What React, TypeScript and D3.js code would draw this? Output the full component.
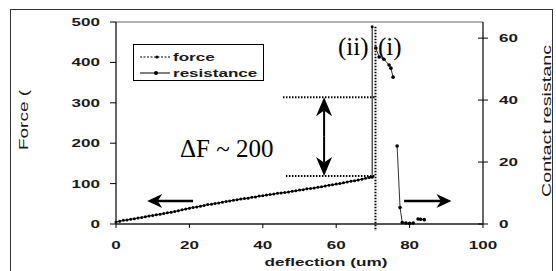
import React from 'react';
import * as d3 from 'd3';

// force curve (deflection um, force)
const forceX = [0, 1, 2, 3, 4, 5, 6, 7, 8, 9, 10, 11, 12, 13, 14, 15, 16, 17, 18, 19, 20, 21, 22, 23, 24, 25, 26, 27, 28, 29, 30, 31, 32, 33, 34, 35, 36, 37, 38, 39, 40, 41, 42, 43, 44, 45, 46, 47, 48, 49, 50, 51, 52, 53, 54, 55, 56, 57, 58, 59, 60, 61, 62, 63, 64, 65, 66, 67, 68, 69, 69.8, 69.8];
const forceY = [5, 7, 9, 10, 12, 13, 15, 16, 18, 20, 21, 23, 24, 26, 28, 29, 31, 33, 35, 37, 39, 41, 42, 44, 46, 48, 49, 51, 52, 54, 56, 57, 59, 60, 62, 63, 64, 66, 67, 69, 70, 72, 73, 74, 76, 77, 78, 79, 81, 82, 84, 85, 87, 88, 89, 91, 92, 94, 96, 97, 99, 100, 102, 104, 106, 107, 109, 111, 113, 115, 116, 488];

// contact resistance, null = gap in the trace
const resX = [70.8, 71.7, 73.0, 74.4, 74.9, 75.5, 76, 76.6, 77.4, 78, 79, 80, 81, 81.6, 82.3, 83, 84];
const resY = [56.8, 53.9, 53.2, 51.3, 50.3, 47.4, null, 25.2, 5.3, 0.5, 0.3, 0.2, 0.3, null, 1.6, 1.5, 1.4];

const xTicks = [0, 20, 40, 60, 80, 100];
const forceTicks = [0, 100, 200, 300, 400, 500];
const resTicks = [0, 20, 40, 60];

const W = 556;
const H = 271;
const left = 116;
const right = 483;
const top = 22;
const bottom = 224;

const font = "'Liberation Sans', Arial, sans-serif";
const serif = "'Liberation Serif', 'Times New Roman', serif";

const Txt = ({ x, y, anchor = 'start', size = 11, sx = 1.55, children }: any) => (
  <text
    transform={`translate(${x},${y}) scale(${sx},1)`}
    textAnchor={anchor}
    fontFamily={font}
    fontWeight="bold"
    fontSize={size}
    fill="#1a1a1a"
  >
    {children}
  </text>
);

const Arrow = ({ x1, y1, x2, y2, L = 15, Wd = 7, sw = 2.5 }: any) => {
  // shaft + filled head pointing at (x2,y2)
  const ang = Math.atan2(y2 - y1, x2 - x1);
  const bx = x2 - L * Math.cos(ang);
  const by = y2 - L * Math.sin(ang);
  const nx = -Math.sin(ang);
  const ny = Math.cos(ang);
  const mx = x2 - L * 0.7 * Math.cos(ang);
  const my = y2 - L * 0.7 * Math.sin(ang);
  return (
    <g>
      <line x1={x1} y1={y1} x2={mx} y2={my} stroke="#000" strokeWidth={sw} />
      <path
        d={`M${x2},${y2} L${bx + nx * Wd},${by + ny * Wd} L${mx},${my} L${bx - nx * Wd},${by - ny * Wd} Z`}
        fill="#000"
      />
    </g>
  );
};

export default function App() {
  const x = d3.scaleLinear().domain([0, 100]).range([left, right]);
  const yF = d3.scaleLinear().domain([0, 500]).range([bottom, top]);
  const yR = d3.scaleLinear().domain([0, 65.2]).range([bottom, top]);

  const forcePts = forceX.map((d, i) => [d, forceY[i]] as [number, number]);
  const resPts = resX.map((d, i) => [d, resY[i]] as [number, number | null]);

  const forceLine = d3
    .line<[number, number]>()
    .x((d) => x(d[0]))
    .y((d) => yF(d[1]));
  const resLine = d3
    .line<[number, number | null]>()
    .defined((d) => d[1] != null)
    .x((d) => x(d[0]))
    .y((d) => yR(d[1] as number));

  return (
    <svg width={W} height={H} style={{ position: 'absolute', left: 0, top: 0, background: '#fff' }}>
      {/* outer figure frame */}
      <rect x={10.5} y={9.5} width={542} height={270} fill="none" stroke="#333" strokeWidth={1} />

      {/* plot frame */}
      <line x1={left} y1={top} x2={right} y2={top} stroke="#666" strokeWidth={1} />
      <line x1={left} y1={top} x2={left} y2={bottom} stroke="#000" strokeWidth={1.2} />
      <line x1={right} y1={top} x2={right} y2={bottom} stroke="#000" strokeWidth={1.2} />
      <line x1={left} y1={bottom} x2={right} y2={bottom} stroke="#555" strokeWidth={2} />

      {/* left axis */}
      {forceTicks.map((t) => (
        <g key={'f' + t}>
          <line x1={left - 6} x2={left} y1={yF(t)} y2={yF(t)} stroke="#000" />
          <Txt x={left - 16} y={yF(t) + 4} anchor="end">{t}</Txt>
        </g>
      ))}
      {/* right axis */}
      {resTicks.map((t) => (
        <g key={'r' + t}>
          <line x1={right - 5} x2={right + 5} y1={yR(t)} y2={yR(t)} stroke="#000" />
          <Txt x={right + 16} y={yR(t) + 4}>{t}</Txt>
        </g>
      ))}
      {/* bottom axis */}
      {xTicks.map((t) => (
        <g key={'x' + t}>
          <line x1={x(t)} x2={x(t)} y1={bottom} y2={bottom + 4} stroke="#000" />
          <Txt x={x(t)} y={bottom + 25} anchor="middle">{t}</Txt>
        </g>
      ))}

      {/* axis titles */}
      <text
        x={326}
        y={266}
        textAnchor="middle"
        fontFamily={font}
        fontWeight="bold"
        fontSize={11}
        textLength={123}
        lengthAdjust="spacingAndGlyphs"
        fill="#1a1a1a"
      >
        deflection (um)
      </text>
      <text
        transform="translate(28,120) rotate(-90)"
        textAnchor="middle"
        fontFamily={font}
        fontSize={12}
        textLength={60}
        lengthAdjust="spacingAndGlyphs"
        fill="#1a1a1a"
      >
        Force (
      </text>
      <text
        transform="translate(551,121) rotate(-90)"
        textAnchor="middle"
        fontFamily={font}
        fontSize={13}
        textLength={152}
        lengthAdjust="spacingAndGlyphs"
        fill="#1a1a1a"
      >
        Contact resistanc
      </text>

      {/* annotation dotted lines */}
      <line x1={x(70.7)} x2={x(70.7)} y1={yF(488)} y2={bottom + 7} stroke="#000" strokeWidth={2} strokeDasharray="1.5,1.5" />
      <line x1={x(45.5)} x2={x(70.7)} y1={yF(314)} y2={yF(314)} stroke="#000" strokeWidth={2} strokeDasharray="1.5,1.5" />
      <line x1={x(46.3)} x2={x(70.7)} y1={yF(119)} y2={yF(119)} stroke="#000" strokeWidth={2} strokeDasharray="1.5,1.5" />

      {/* force */}
      <path d={forceLine(forcePts) || ''} fill="none" stroke="#000" strokeWidth={1} />
      {forcePts.map((d, i) => (
        <circle key={'fp' + i} cx={x(d[0])} cy={yF(d[1])} r={1.5} fill="#000" />
      ))}

      {/* resistance */}
      <path d={resLine(resPts) || ''} fill="none" stroke="#333" strokeWidth={1} />
      {resPts
        .filter((d) => d[1] != null)
        .map((d, i) => (
          <circle key={'rp' + i} cx={x(d[0])} cy={yR(d[1] as number)} r={1.8} fill="#000" />
        ))}

      {/* arrows */}
      <Arrow x1={x(21)} y1={yF(57)} x2={x(8.5)} y2={yF(57)} />
      <Arrow x1={x(78.5)} y1={yF(57)} x2={x(91.4)} y2={yF(57)} />
      <Arrow x1={x(56.7)} y1={yF(216)} x2={x(56.7)} y2={yF(314)} L={19} Wd={8} sw={2} />
      <Arrow x1={x(56.7)} y1={yF(216)} x2={x(56.7)} y2={yF(119)} L={19} Wd={8} sw={2} />

      {/* annotations */}
      <text x={180} y={157} fontFamily={serif} fontSize={25} fill="#000">
        ΔF ~ 200
      </text>
      <text x={338} y={55} fontFamily={serif} fontSize={25} fill="#000">
        (ii)
      </text>
      <text x={378} y={55} fontFamily={serif} fontSize={25} fill="#000">
        (i)
      </text>

      {/* legend */}
      <rect x={133.5} y={44.5} width={130} height={36} fill="#fff" stroke="#000" strokeWidth={1} />
      <line x1={140} x2={170} y1={57} y2={57} stroke="#000" strokeDasharray="2,1.5" />
      <circle cx={157} cy={57} r={1.6} fill="#000" />
      <Txt x={173} y={61}>force</Txt>
      <line x1={140} x2={170} y1={73} y2={73} stroke="#000" />
      <circle cx={156} cy={73} r={2} fill="#000" />
      <Txt x={173} y={77}>resistance</Txt>
    </svg>
  );
}
